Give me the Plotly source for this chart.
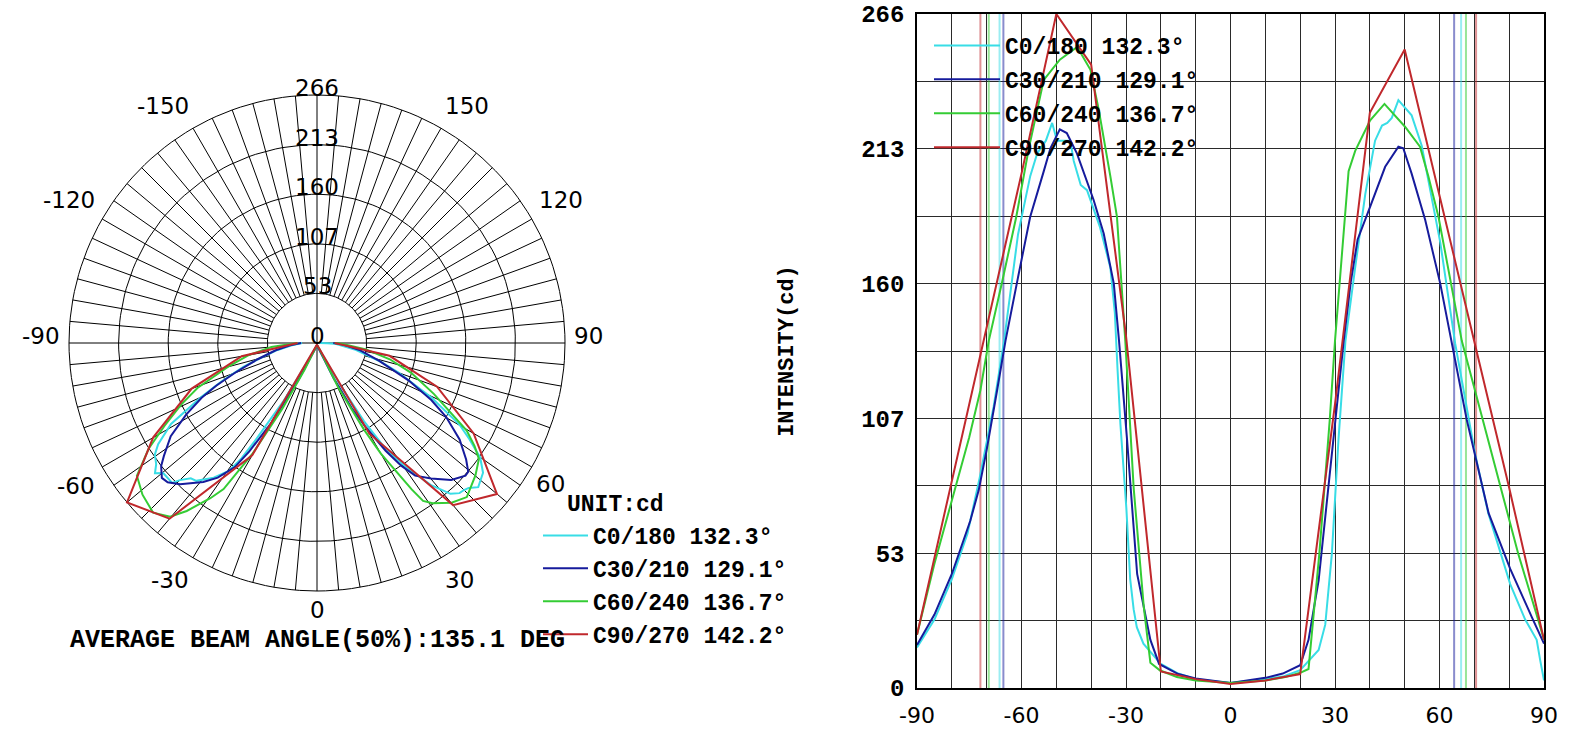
import numpy as np
import plotly.graph_objects as go

# ---------------- data ----------------
series_names = ["C0/180 132.3°", "C30/210 129.1°", "C60/240 136.7°", "C90/270 142.2°"]
series_colors = ["#38dde6", "#161b9c", "#34cc34", "#c0282c"]

c0_gamma = [-90, -85, -80, -75.5, -72, -68, -65, -61, -57.5, -55.5, -53, -51.2, -49.8, -46, -45, -43,
            -41.2, -37.5, -34.5, -33.2, -32.4, -31.6, -29.9, -28.8, -27.8, -26.9, -25, -20, -15, -10,
            0, 10, 15, 20, 25.3, 27.2, 29.1, 31, 33, 35.8, 38.7, 41.5, 43.5, 45, 46.3, 48.2, 50.1, 52,
            54.9, 57.8, 60.2, 64.5, 70.2, 74, 80.3, 84.6, 87.9, 88.9, 90]
c0_cd = [16, 27, 43, 61, 83, 111, 137, 179, 202, 211, 216, 223, 216, 216, 208, 198.5,
         196.5, 182, 166, 148, 125, 104, 71, 43, 31, 24, 17.5, 9.5, 5.7, 3.5,
         2, 3.5, 4.5, 7, 15, 25, 53, 98, 137, 166, 195, 216, 222, 223, 225, 232, 229, 226,
         214, 193, 176, 136, 92.5, 69, 41, 27, 19, 11, 3]

c30_gamma = [-90, -85, -80, -74.7, -72.3, -70, -67, -64.6, -61.3, -57.5, -53.6, -51.7, -49, -47, -44.1,
             -39.3, -36.4, -33.5, -32, -29.7, -26.8, -23, -20.5, -15, -10, 0, 10, 15, 20, 22.4, 25.3,
             28.1, 30, 32.5, 34.5, 36.5, 40.1, 44.4, 48.2, 49.6, 52, 55.9, 60.2, 63.5, 67.8, 74.1,
             80.3, 86.5, 90]
c30_cd = [17, 29, 45, 66, 78, 94, 117.5, 137, 160, 186, 204, 213, 220.5, 219, 211,
          192.6, 179.4, 159.6, 137, 98, 45, 19, 9.5, 5.5, 3.8, 2, 4, 5.7, 9, 19, 42.5,
          79, 104, 137, 160, 177, 190, 205.7, 213.6, 213, 203, 184.7, 159.7, 137, 106, 69,
          47, 28, 17.5]

c60_gamma = [-90, -85, -80, -75, -71.8, -69.4, -65.6, -61.5, -57.9, -53.6, -49, -44, -40.2, -37.8,
             -34.5, -32.6, -30.2, -27.8, -24.9, -23, -20.3, -15.4, -10, 0, 10, 15.7, 20, 22.4, 25.5,
             28.5, 30, 32.9, 33.9, 35.8, 40.1, 44.2, 50.1, 54.4, 56.8, 59.7, 66.4, 72.4, 77.4,
             82.6, 88.4, 90]
c60_cd = [21, 49, 74, 99, 117.5, 137, 160, 186, 213, 240, 248, 253, 244, 228,
          202, 186, 137, 79, 32, 10, 7, 4.3, 3, 2, 3, 4.3, 6, 7.5, 53,
          106, 137, 187, 204, 212, 224, 230.5, 221.5, 213.6, 202, 186, 137, 106, 80,
          53, 26.6, 19]

c90_gamma = [-90, -80, -70, -60, -50, -40, -30, -20, -10, 0, 10, 20, 30, 40, 50, 60, 70, 80, 90]
c90_cd = [21, 82, 143, 203, 266, 246, 139, 6.5, 3.5, 1.6, 3, 5.5, 112, 227, 252, 194, 137, 79, 19]

# beam edges (50% intensity) per C-plane
beam_left = [-66.3, -65.2, -69.4, -71.8]
beam_right = [66.2, 64.2, 67.6, 70.5]

all_gamma = [c0_gamma, c30_gamma, c60_gamma, c90_gamma]
all_cd = [c0_cd, c30_cd, c60_cd, c90_cd]

r_max = 266
radial_ticks = [53.2, 106.4, 159.6, 212.8, 266]
radial_labels = ["53", "107", "160", "213", "266"]
angle_ticks = [-150, -120, -90, -60, -30, 0, 30, 60, 90, 120, 150]
y_ticks = [0, 26.6, 53.2, 79.8, 106.4, 133, 159.6, 186.2, 212.8, 239.4, 266]
y_ticklabels = ["0", "", "53", "", "107", "", "160", "", "213", "", "266"]
x_ticks = list(range(-90, 91, 10))
x_ticklabels = [str(v) if v % 30 == 0 else "" for v in x_ticks]

title_text = "AVERAGE BEAM ANGLE(50%):135.1 DEG"
unit_text = "UNIT:cd"
y_title = "INTENSITY(cd)"

# ---------------- layout geometry ----------------
FW, FH = 1574, 732
CX, CY = 317, 343          # polar centre in px
RP = 248                   # outer ring radius in px
S = RP / r_max
LEFT_W = 620

MONO = "Liberation Mono, Courier New, monospace"
SANS = "DejaVu Sans, Verdana, sans-serif"
BLACK = "#000000"

fig = go.Figure()

# ---- polar grid (drawn on an equal-scaled cartesian pane) ----
th = np.radians(np.arange(0, 361, 2))
gx, gy = [], []
for r in radial_ticks:
    gx += list(r * np.sin(th)) + [None]
    gy += list(r * np.cos(th)) + [None]
for a in range(0, 360, 5):
    if a % 90 == 0:
        continue
    t = np.radians(a)
    gx += [radial_ticks[0] * np.sin(t), r_max * np.sin(t), None]
    gy += [radial_ticks[0] * np.cos(t), r_max * np.cos(t), None]
gx += [-r_max, r_max, None, 0, 0]
gy += [0, 0, None, -r_max, r_max]
fig.add_trace(go.Scatter(x=gx, y=gy, mode="lines", line=dict(color=BLACK, width=1),
                         hoverinfo="skip", showlegend=False, xaxis="x", yaxis="y"))

for name, col, g, v in zip(series_names, series_colors, all_gamma, all_cd):
    t = np.radians(np.array(g, dtype=float))
    vv = np.array(v, dtype=float)
    fig.add_trace(go.Scatter(
        x=vv * np.sin(t), y=-vv * np.cos(t), mode="lines", name=name,
        line=dict(color=col, width=2), xaxis="x", yaxis="y", legend="legend",
    ))

# ---- cartesian chart ----
for col, bl, br in zip(series_colors, beam_left, beam_right):
    for e in (bl, br):
        fig.add_trace(go.Scatter(x=[e, e], y=[0, r_max], mode="lines", opacity=0.5,
                                 line=dict(color=col, width=2), hoverinfo="skip",
                                 showlegend=False, xaxis="x2", yaxis="y2"))

for i, (name, col, g, v) in enumerate(zip(series_names, series_colors, all_gamma, all_cd)):
    fig.add_trace(go.Scatter(x=g, y=v, mode="lines", name=name,
                             line=dict(color=col, width=2), xaxis="x2", yaxis="y2",
                             legend="legend2", legendgroup=f"g{i}"))

# ---- annotations for the polar pane ----
LAB_RX = 278               # horizontal anchor radius of angle labels (data units)
ann = []
for a in angle_ticks:
    t = np.radians(a)
    s, c = np.sin(t), np.cos(t)
    if a == 0:
        ann.append(dict(x=0, y=-286, text="0", xanchor="center", yanchor="middle", borderpad=0))
        continue
    R = 307 if abs(a) in (60, 120) else 294
    y = 7.5 if abs(a) == 90 else -R * c
    xs = 3 if s < 0 else -3
    ys = 0
    if a == 60:
        xs, ys = -6, 2
    ann.append(dict(x=LAB_RX * s, y=y, text=str(a), xanchor="right" if s < 0 else "left",
                    yanchor="middle", xshift=xs, yshift=ys, borderpad=0))
for r, lab in zip([0] + radial_ticks, ["0"] + radial_labels):
    ann.append(dict(x=0, y=r, text=lab, xanchor="center", yanchor="bottom", yshift=-8))
for a_ in ann:
    a_.update(xref="x", yref="y", showarrow=False, font=dict(family=SANS, size=23, color=BLACK))

ann.append(dict(x=CX / FW, y=(FH - 640) / FH, xref="paper", yref="paper", text=title_text,
                showarrow=False, xanchor="center", yanchor="middle", borderpad=0,
                font=dict(family=MONO, size=25, color=BLACK, weight="bold")))
# unit caption above the left legend
ann.append(dict(x=566 / FW, y=(FH - 505) / FH, xref="paper", yref="paper", text=unit_text,
                showarrow=False, xanchor="left", yanchor="middle", borderpad=0,
                font=dict(family=MONO, size=23, color=BLACK, weight="bold")))

fig.update_layout(
    width=FW, height=FH, margin=dict(l=0, r=0, t=0, b=0, autoexpand=False),
    paper_bgcolor="white", plot_bgcolor="rgba(0,0,0,0)",
    xaxis=dict(domain=[0, LEFT_W / FW], range=[-CX / S, (LEFT_W - CX) / S],
               visible=False, fixedrange=True),
    yaxis=dict(domain=[0, 1], range=[(CY - FH) / S, CY / S], visible=False, fixedrange=True,
               anchor="x"),
    xaxis2=dict(domain=[917 / FW, 1544 / FW], range=[-90, 90], anchor="y2",
                tickmode="array", tickvals=x_ticks, ticktext=x_ticklabels,
                showgrid=True, gridcolor="#2a2a2a", gridwidth=1, zeroline=False,
                showline=True, linecolor=BLACK, linewidth=1.5, mirror=True, ticks="",
                ticklabelstandoff=7, tickfont=dict(family=SANS, size=22, color=BLACK)),
    yaxis2=dict(domain=[(FH - 688) / FH, (FH - 14) / FH], range=[0, r_max], anchor="x2",
                tickmode="array", tickvals=y_ticks, ticktext=y_ticklabels,
                showgrid=True, gridcolor="#2a2a2a", gridwidth=1, zeroline=False,
                showline=True, linecolor=BLACK, linewidth=1.5, mirror=True, ticks="",
                ticklabelstandoff=6,
                tickfont=dict(family=MONO, size=24, color=BLACK, weight="bold"),
                title=dict(text=y_title, standoff=62,
                           font=dict(family=MONO, size=22, color=BLACK, weight="bold"))),
    legend=dict(x=538 / FW, xanchor="left", y=(FH - 514) / FH, yanchor="top",
                bgcolor="rgba(0,0,0,0)", itemwidth=45, tracegroupgap=0,
                font=dict(family=MONO, size=23, color=BLACK, weight="bold")),
    legend2=dict(x=929 / FW, xanchor="left", y=(FH - 24) / FH, yanchor="top",
                 bgcolor="rgba(0,0,0,0)", itemwidth=66, tracegroupgap=1,
                 font=dict(family=MONO, size=23, color=BLACK, weight="bold")),
    annotations=ann,
    showlegend=True,
)

fig.write_html("out.html")
